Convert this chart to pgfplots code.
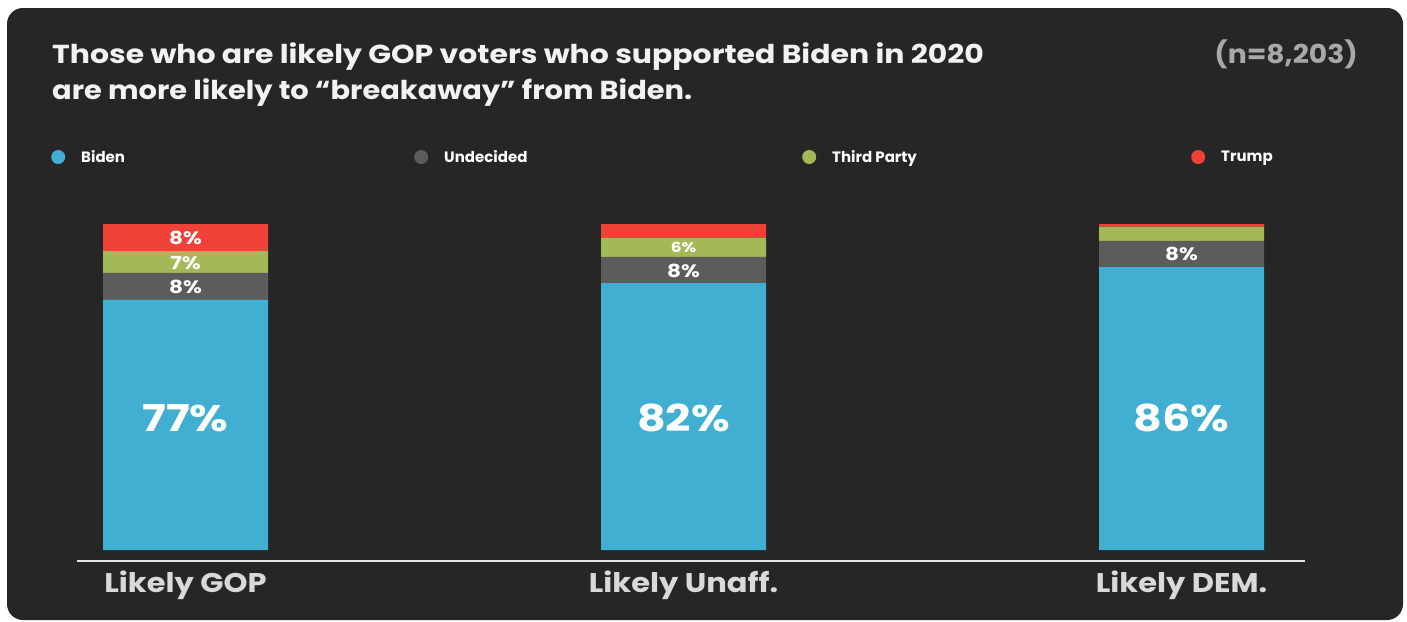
\documentclass[border=0pt]{standalone}
\usepackage{fontspec}
\setmainfont{Poppins}
\usepackage{pgfplots}
\pgfplotsset{compat=1.18}
\definecolor{bg}{HTML}{262626}
\definecolor{biden}{HTML}{41AFD1}
\definecolor{undec}{HTML}{5C5C5C}
\definecolor{third}{HTML}{A3B857}
\definecolor{trump}{HTML}{EF4136}
\definecolor{titlec}{HTML}{F2F2F2}
\definecolor{nc}{HTML}{A8A8A8}
\definecolor{catc}{HTML}{D9D9D9}
\definecolor{linec}{HTML}{E6E6E6}
\tikzset{lab/.style={text=white, inner sep=0pt, xscale=1.2, font=\fontsize{#1}{#1}\selectfont\bfseries}}
\begin{document}
\begin{tikzpicture}
\path[use as bounding box] (0,0) rectangle (1407pt,-621pt);
\fill[white] (0,0) rectangle (1407pt,-621pt);
\fill[bg, rounded corners=16pt] (7pt,-8pt) rectangle (1403pt,-620pt);
\node[anchor=base west, inner sep=0, xscale=1.15, text=titlec, font=\fontsize{26}{30}\selectfont\bfseries] at (52pt,-63pt) {Those who are likely GOP voters who supported Biden in 2020};
\node[anchor=base west, inner sep=0, xscale=1.11, text=titlec, font=\fontsize{26}{30}\selectfont\bfseries] at (52pt,-99pt) {are more likely to “breakaway” from Biden.};
\node[anchor=base east, inner sep=0, xscale=1.085, text=nc, font=\fontsize{26}{30}\selectfont\bfseries] at (1358pt,-63pt) {(n=8,203)};
\begin{axis}[
  at={(77pt,-561pt)}, anchor=south west,
  x=498pt, y=3.26pt,
  xmin=-0.2179, xmax=2.2470, ymin=-3.374, ymax=100,
  ybar stacked, bar width=165pt,
  axis x line*=bottom, axis y line=none,
  x axis line style={-, draw=linec, line width=2pt},
  xtick={0,1,2}, xticklabels={Likely GOP, Likely Unaff., Likely DEM.},
  major tick length=0pt,
  xticklabel style={font=\fontsize{27}{30}\selectfont\bfseries, text=catc, inner sep=0pt, anchor=north, yshift=-10pt, xscale=1.13},
  ytick=\empty,
  clip=false,
  legend columns=4,
  legend style={at={(-0.02117,1.1988)}, anchor=west, draw=none, fill=none, inner sep=0pt,
    font=\fontsize{15}{18}\selectfont\bfseries, text=white,
    nodes={inner sep=0pt},
    /tikz/every odd column/.append style={column sep=16pt}},
  legend image code/.code={\fill[#1] (7pt,0pt) circle (7pt);},
]
\addplot[fill=biden, draw=none] coordinates {(0,76.7) (1,81.9) (2,86.8)};
\addlegendentry{\makebox[333pt][l]{Biden}}
\addplot[fill=undec, draw=none] coordinates {(0,8.3) (1,8.0) (2,8.0)};
\addlegendentry{\makebox[358pt][l]{Undecided}}
\addplot[fill=third, draw=none] coordinates {(0,6.7) (1,5.8) (2,4.4)};
\addlegendentry{\makebox[359pt][l]{Third Party}}
\addplot[fill=trump, draw=none] coordinates {(0,8.3) (1,4.3) (2,0.8)};
\addlegendentry{Trump}
\coordinate (a1) at (axis cs:0,40.5);
\coordinate (a2) at (axis cs:1,40.5);
\coordinate (a3) at (axis cs:2,40.5);
\coordinate (b1) at (axis cs:0,95.7);
\coordinate (b2) at (axis cs:0,88.0);
\coordinate (b3) at (axis cs:0,80.7);
\coordinate (c1) at (axis cs:1,92.9);
\coordinate (c2) at (axis cs:1,85.6);
\coordinate (d1) at (axis cs:2,90.8);
\end{axis}
\node[lab=37] at (a1) {77\%};
\node[lab=37] at (a2) {82\%};
\node[lab=37] at (a3) {86\%};
\node[lab=18] at (b1) {8\%};
\node[lab=18] at (b2) {7\%};
\node[lab=18] at (b3) {8\%};
\node[lab=14] at (c1) {6\%};
\node[lab=18] at (c2) {8\%};
\node[lab=18] at (d1) {8\%};
\end{tikzpicture}
\end{document}
